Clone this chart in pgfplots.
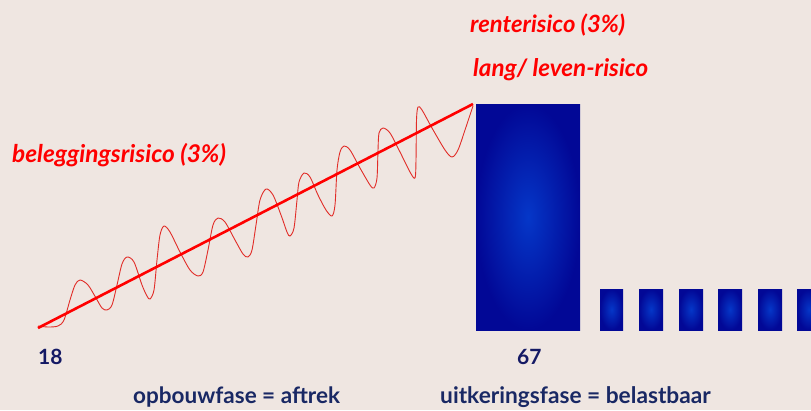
\documentclass[border=0pt]{standalone}
\usepackage{pgfplots}
\pgfplotsset{compat=1.18}
\usepackage{fontspec}
\setmainfont{Lato}
\definecolor{bg}{RGB}{239,230,225}
\definecolor{navy}{RGB}{20,25,100}
\definecolor{txtblue}{RGB}{25,40,100}
\definecolor{barout}{RGB}{2,8,150}
\definecolor{barin}{RGB}{5,55,200}
\definecolor{wave}{RGB}{225,45,40}
\pgfplotstableread{
x y
38 326
48 327
58 326
64 320
70 300
75 285
80 280
88 285
96 298
102 308
107 310
112 305
117 285
122 264
127 257
134 262
142 285
147 296
150 299
154 290
157 260
160 235
164 226
170 232
180 252
190 270
198 276
203 272
208 250
213 225
218 218
225 222
235 240
243 254
248 257
252 250
256 225
260 200
266 189
273 195
281 215
287 232
290 236
294 228
297 200
299 182
304 173
310 177
318 195
326 210
332 216
335 205
337 170
340 152
344 146
350 150
360 168
370 185
374 188
377 178
378 150
379 133
383 128
390 133
400 152
410 172
415 178
416 160
416.5 120
418 107
422 110
432 128
445 150
452 157
458 150
465 130
470 115
473 106
}\wavetable
\begin{document}
\begin{tikzpicture}
\begin{axis}[
  scale only axis, width=811pt, height=410pt,
  xmin=0, xmax=811, ymin=0, ymax=410, y dir=reverse,
  hide axis, clip=true,
]
\addplot[draw=none, fill=bg, forget plot] coordinates {(0,0)(811,0)(811,410)(0,410)} -- cycle;
% big bar
\addplot[draw=none, inner color=barin, outer color=barout] coordinates {(476,104)(580,104)(580,330)(476,330)} -- cycle;
% small bars
\addplot[draw=none, inner color=barin, outer color=barout] coordinates {(600,289)(623,289)(623,330)(600,330)} -- cycle;
\addplot[draw=none, inner color=barin, outer color=barout] coordinates {(639,289)(663,289)(663,330)(639,330)} -- cycle;
\addplot[draw=none, inner color=barin, outer color=barout] coordinates {(679,289)(703,289)(703,330)(679,330)} -- cycle;
\addplot[draw=none, inner color=barin, outer color=barout] coordinates {(718,289)(742,289)(742,330)(718,330)} -- cycle;
\addplot[draw=none, inner color=barin, outer color=barout] coordinates {(758,289)(782,289)(782,330)(758,330)} -- cycle;
\addplot[draw=none, inner color=barin, outer color=barout] coordinates {(797,289)(821,289)(821,330)(797,330)} -- cycle;
% wave
\addplot[wave, line width=0.9pt, smooth, tension=0.5] table[x=x,y=y] {\wavetable};
% straight line
\addplot[red, line width=2.6pt] coordinates {(38,328)(473,104)};
% labels
\node[anchor=west, inner sep=0pt, text=red, font=\fontsize{24.4}{28}\selectfont\itshape\bfseries] at (axis cs:12,155) {beleggingsrisico (3\%)};
\node[anchor=west, inner sep=0pt, text=red, font=\fontsize{23.8}{28}\selectfont\itshape\bfseries] at (axis cs:470,25) {renterisico (3\%)};
\node[anchor=west, inner sep=0pt, text=red, font=\fontsize{24.2}{28}\selectfont\itshape\bfseries] at (axis cs:473,70) {lang/ leven-risico};
\node[anchor=west, inner sep=0pt, text=navy, font=\fontsize{21}{26}\selectfont\bfseries] at (axis cs:38,357) {18};
\node[anchor=west, inner sep=0pt, text=navy, font=\fontsize{21}{26}\selectfont\bfseries] at (axis cs:517,357) {67};
\node[anchor=west, inner sep=0pt, text=txtblue, font=\fontsize{22.5}{26}\selectfont\bfseries] at (axis cs:133,397) {opbouwfase = aftrek};
\node[anchor=west, inner sep=0pt, text=txtblue, font=\fontsize{22.7}{26}\selectfont\bfseries] at (axis cs:440,397) {uitkeringsfase = belastbaar};
\end{axis}
\end{tikzpicture}
\end{document}
